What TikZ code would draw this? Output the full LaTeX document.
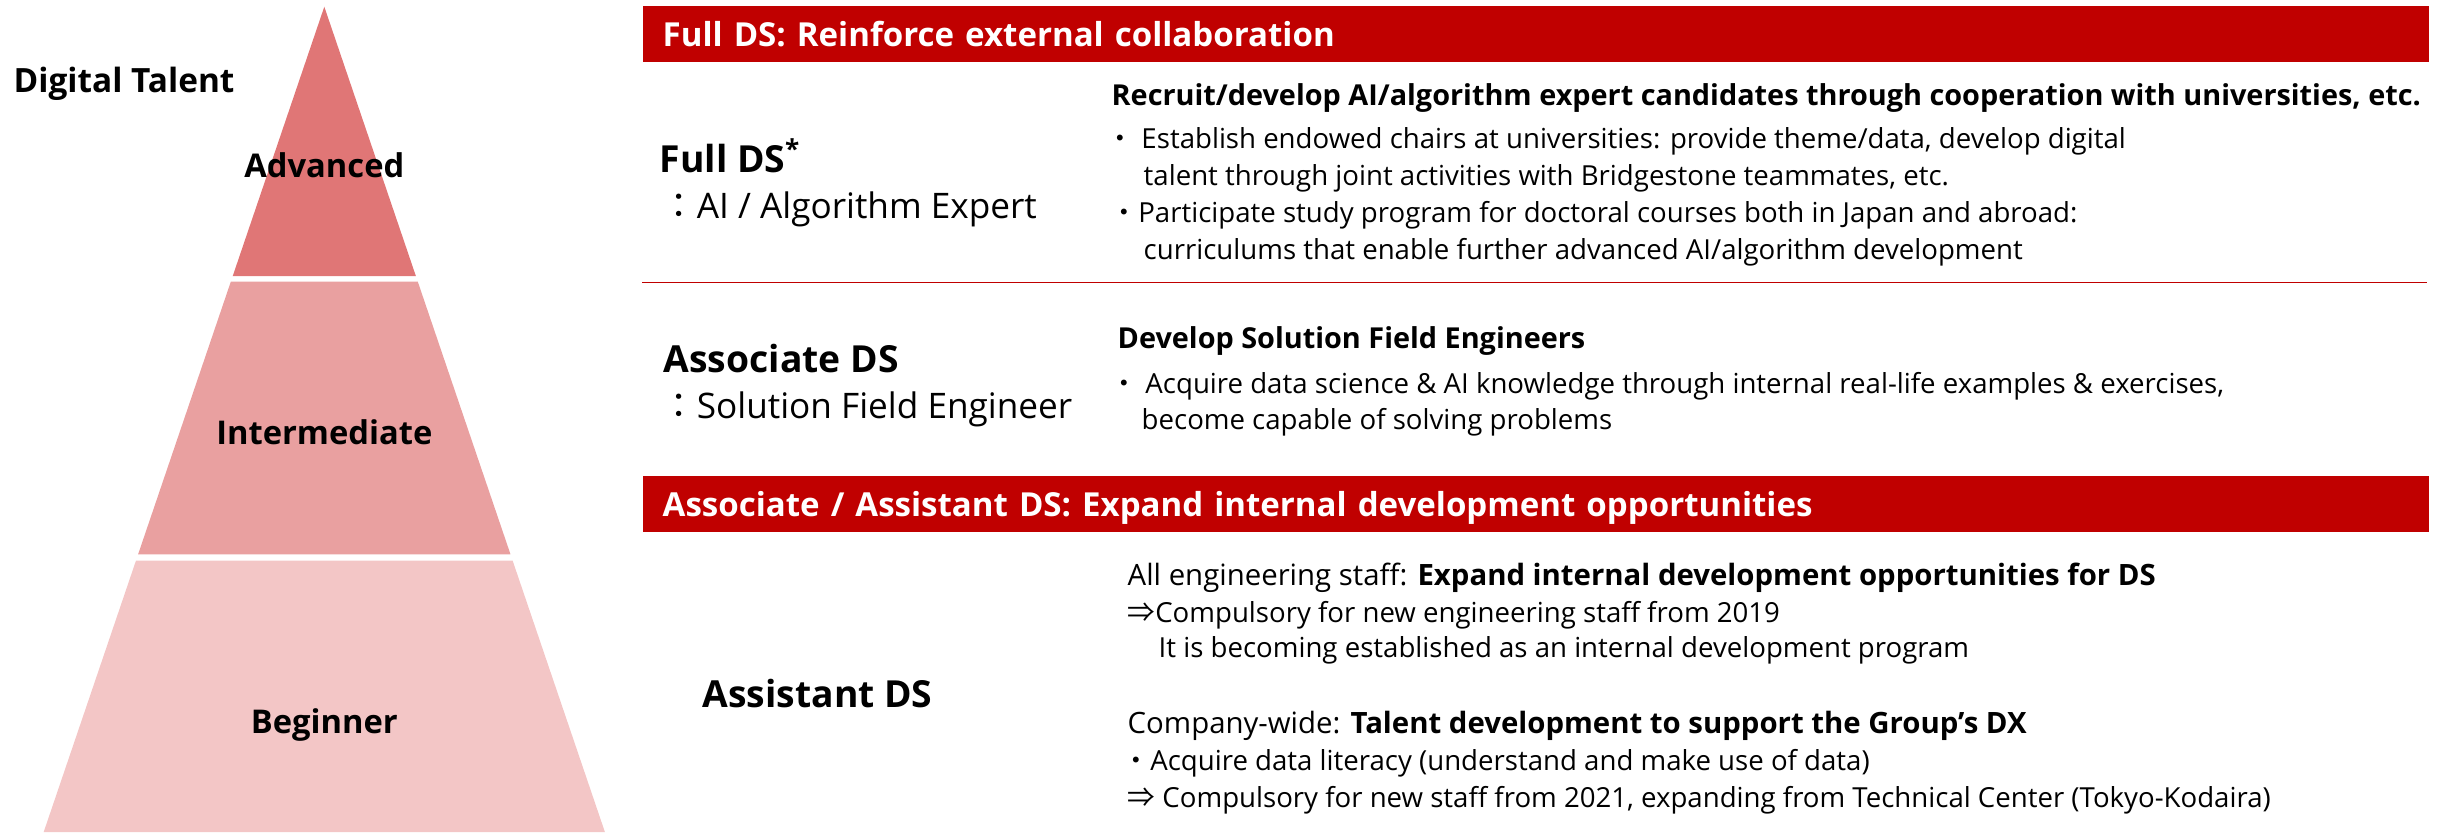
\documentclass[tikz,border=0pt]{standalone}
\usepackage{fontspec}
\setmainfont{Open Sans}
\newfontfamily\jp{Noto Sans CJK JP}
\usetikzlibrary{math}
\definecolor{tierA}{RGB}{224,118,118}
\definecolor{tierB}{RGB}{233,160,160}
\definecolor{tierC}{RGB}{243,198,198}
\definecolor{barred}{RGB}{192,0,0}

\begin{document}
\begin{tikzpicture}[x=0.01cm, y=-0.01cm,
 tier/.style={anchor=base, inner sep=0pt, font=\fontsize{9.3}{11}\selectfont\bfseries},
 bar/.style={fill=barred, text=white, anchor=west, minimum width=17.85cm, minimum height=0.56cm,
  text width=17.45cm, align=left, inner xsep=0.2cm, text height=0.25cm, text depth=0pt,
  font=\fontsize{9.4}{12}\selectfont\bfseries},
 rank/.style={anchor=base west, inner sep=0pt, font=\fontsize{10.6}{13}\selectfont\bfseries},
 role/.style={anchor=base west, inner sep=0pt, font=\fontsize{10}{12}\selectfont},
 head/.style={anchor=base west, inner sep=0pt, font=\fontsize{8.2}{10}\selectfont\bfseries},
 lead/.style={anchor=base west, inner sep=0pt, font=\fontsize{8.35}{10}\selectfont},
 body/.style={anchor=base west, inner sep=0pt, font=\fontsize{7.85}{9}\selectfont}]

\useasboundingbox (0,0) rectangle (2442,832);

\tikzmath{
\ax = 324.3;% apex
\ay = 6.7;
\s = 0.34;% half width per unit of depth
}

%pyramid
\foreach \ya/\yb/\col in {\ay/276/tierA, 281.7/554.3/tierB, 560.7/832/tierC}{
 \fill[\col] ({\ax-\s*(\ya-\ay)},\ya) -- ({\ax+\s*(\ya-\ay)},\ya)
  -- ({\ax+\s*(\yb-\ay)},\yb) -- ({\ax-\s*(\yb-\ay)},\yb) -- cycle;
}

\node[anchor=base west, inner sep=0pt, font=\fontsize{9.5}{11}\selectfont\bfseries] (talent) at (13,92) {Digital Talent};
\node[tier] (adv) at (\ax,177) {Advanced};
\node[tier] (inter) at (\ax,444) {Intermediate};
\node[tier] (begin) at (\ax,733) {Beginner};

%red bars
\node[bar] (collab) at (642,34) {Full DS: Reinforce external collaboration};
\node[bar] (expand) at (642,503.5) {Associate / Assistant DS: Expand internal development opportunities};

\coordinate (sepL) at (642,282.3);
\coordinate (sepR) at (2427,282.3);
\draw[barred, line width=0.45pt] (sepL) -- (sepR);

%ranks
\node[rank] (fullds) at (659,172) {Full DS\textsuperscript{*}};
\node[role] (fullrole) at (661,218) {{\jp ：}AI / Algorithm Expert};
\node[rank] (assocds) at (663,372) {Associate DS};
\node[role] (assocrole) at (661,418) {{\jp ：}Solution Field Engineer};
\node[rank] (assistds) at (702,707) {Assistant DS};

%full DS measures
\node[head] (recruit) at (1111,105) {Recruit/develop AI/algorithm expert candidates through cooperation with universities, etc.};
\node[body] (chairs) at (1106,148) {{\jp ・} Establish endowed chairs at universities: provide theme/data, develop digital};
\node[body] (chairsb) at (1143,185) {talent through joint activities with Bridgestone teammates, etc.};
\node[body] (study) at (1110,222) {{\jp ・}Participate study program for doctoral courses both in Japan and abroad:};
\node[body] (studyb) at (1143,259) {curriculums that enable further advanced AI/algorithm development};

%associate DS measures
\node[head] (solfield) at (1117,348) {Develop Solution Field Engineers};
\node[body] (acquire) at (1110,393) {{\jp ・} Acquire data science \& AI knowledge through internal real-life examples \& exercises,};
\node[body] (acquireb) at (1141,429) {become capable of solving problems};

%assistant DS measures
\node[lead] (allstaff) at (1127,585) {All engineering staff: \textbf{Expand internal development opportunities for DS}};
\node[body] (since19) at (1127,622) {{\jp ⇒}Compulsory for new engineering staff from 2019};
\node[body] (program) at (1158,657) {It is becoming established as an internal development program};
\node[lead] (company) at (1127,733) {Company-wide: \textbf{Talent development to support the Group’s DX}};
\node[body] (literacy) at (1122,770) {{\jp ・}Acquire data literacy (understand and make use of data)};
\node[body] (since21) at (1127,807) {{\jp ⇒} Compulsory for new staff from 2021, expanding from Technical Center (Tokyo-Kodaira)};

\end{tikzpicture}
\end{document}
